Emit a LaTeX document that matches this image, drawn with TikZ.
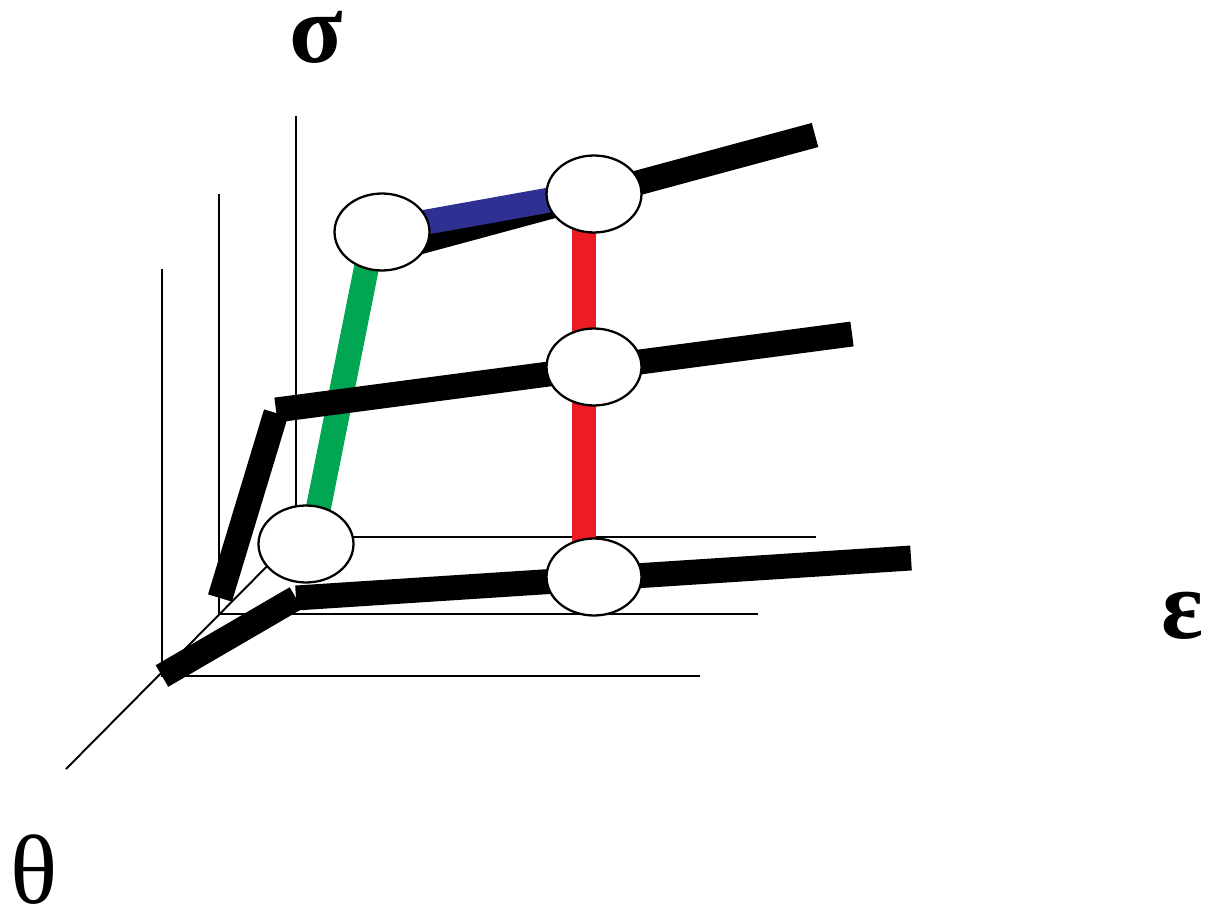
\documentclass[tikz,border=0pt]{standalone}
\usepackage{fontspec}
\setmainfont{Liberation Serif}
\usetikzlibrary{shapes.geometric}

\definecolor{pathgreen}{RGB}{0,166,81}
\definecolor{pathred}{RGB}{237,28,36}
\definecolor{pathblue}{RGB}{46,49,146}

\tikzset{
	axis/.style={line width=1.1pt},
	bar/.style={line width=14.2pt},
	joint/.style={ellipse, draw, fill=white, line width=1.3pt, minimum width=1.9cm, minimum height=1.54cm, inner sep=0pt},
	lbl/.style={inner sep=0pt, font=\fontsize{56}{60}\selectfont}
}

\begin{document}
\begin{tikzpicture}[x=0.02cm, y=-0.02cm]
	\useasboundingbox (0,0) rectangle (1214,909);
	%\draw[help lines] (0,0) grid[step=100] (1214,909);
	% axes
	\coordinate (bk) at (296,537);
	\coordinate (md) at (219,614);
	\coordinate (fr) at (162,676);
	\coordinate (bktop) at (296,116);
	\coordinate (mdtop) at (219,194);
	\coordinate (frtop) at (162,269);
	\coordinate (bkend) at (816,537);
	\coordinate (mdend) at (758,614);
	\coordinate (frend) at (700,676);
	\coordinate (thend) at (66,769);
	\draw[axis] (bktop) -- (bk) -- (bkend);
	\draw[axis] (mdtop) -- (md) -- (mdend);
	\draw[axis] (frtop) -- (fr) -- (frend);
	\draw[axis] (thend) -- (bk);
	% paths
	\coordinate (a0) at (162,676);
	\coordinate (a1) at (296,598);
	\coordinate (a2) at (911,558);
	\coordinate (b0) at (220,598);
	\coordinate (b1) at (276,413);
	\coordinate (b2) at (276,410);
	\coordinate (b3) at (852,334);
	\coordinate (c0) at (382,252);
	\coordinate (c1) at (815,135);
	\coordinate (g0) at (312,540);
	\coordinate (g1) at (372,240);
	\coordinate (r0) at (584,194);
	\coordinate (r1) at (584,577);
	\coordinate (u0) at (382,230);
	\coordinate (u1) at (594,192);
	\draw[bar, pathgreen] (g0) -- (g1);
	\draw[bar, pathred] (r0) -- (r1);
	\draw[bar] (a0) -- (a1);
	\draw[bar] (a1) -- (a2);
	\draw[bar] (b0) -- (b1);
	\draw[bar] (b2) -- (b3);
	\draw[bar] (c0) -- (c1);
	\draw[bar, pathblue] (u0) -- (u1);
	% states
	\node[joint] (e1) at (382,232) {};
	\node[joint] (e2) at (594,194) {};
	\node[joint] (e3) at (594,367) {};
	\node[joint] (e4) at (594,577) {};
	\node[joint] (e5) at (306,544) {};
	% labels
	\node[lbl] (sig) at (316,37) {\bfseries σ};
	\node[lbl] (eps) at (1183,616) {\bfseries ε};
	\node[lbl] (th) at (34,870) {θ};
\end{tikzpicture}
\end{document}
